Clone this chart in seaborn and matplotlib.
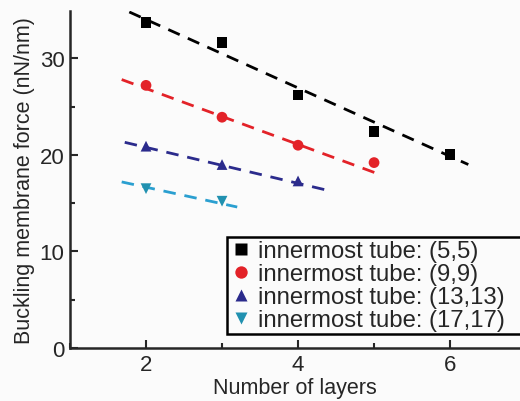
import matplotlib
matplotlib.use("Agg")
import matplotlib.pyplot as plt
import seaborn as sns
import pandas as pd
from matplotlib.ticker import MultipleLocator

sns.set_style("ticks")
plt.rcParams['font.family'] = ['Liberation Sans', 'DejaVu Sans']

# Data
labels = ["innermost tube: (5,5)", "innermost tube: (9,9)",
          "innermost tube: (13,13)", "innermost tube: (17,17)"]
x_55 = [2, 3, 4, 5, 6]
y_55 = [33.7, 31.6, 26.2, 22.4, 20.0]
x_99 = [2, 3, 4, 5]
y_99 = [27.2, 23.9, 21.0, 19.2]
x_1313 = [2, 3, 4]
y_1313 = [20.9, 19.0, 17.3]
x_1717 = [2, 3]
y_1717 = [16.5, 15.2]

# Fitted dashed lines (end points)
fit_x = [[1.78, 6.24], [1.68, 5.10], [1.72, 4.35], [1.68, 3.20]]
fit_y = [[34.8, 19.0], [27.8, 17.9], [21.3, 16.4], [17.2, 14.6]]

marker_colors = ["#000000", "#e32228", "#2b2b8c", "#2191b0"]
line_colors = ["#000000", "#e32228", "#2b2b8c", "#2a9fd0"]
markers = ["s", "o", "^", "v"]

pts = pd.concat([
    pd.DataFrame({"x": xs, "y": ys, "series": lab})
    for xs, ys, lab in zip([x_55, x_99, x_1313, x_1717],
                           [y_55, y_99, y_1313, y_1717], labels)
])
fits = pd.concat([
    pd.DataFrame({"x": fx, "y": fy, "series": lab})
    for fx, fy, lab in zip(fit_x, fit_y, labels)
])

fig = plt.figure(figsize=(5.2, 4.02), dpi=100)
fig.patch.set_facecolor("#fbfbfb")
ax = fig.add_axes([70/520, 53/402, 450/520, 337/402])
ax.set_facecolor("#fbfbfb")

sns.lineplot(data=fits, x="x", y="y", hue="series", hue_order=labels,
             palette=line_colors, ax=ax, legend=False, linewidth=2.0,
             estimator=None, sort=False)
for ln in ax.get_lines():
    ln.set_dashes((4.5, 3.2))

sns.scatterplot(data=pts, x="x", y="y", hue="series", style="series",
                hue_order=labels, style_order=labels,
                palette=marker_colors, markers=markers, s=60,
                edgecolor="none", ax=ax, zorder=3)

ax.set_xlim(1.0, 6.92)
ax.set_ylim(0, 34.9)
ax.xaxis.set_major_locator(MultipleLocator(2))
ax.xaxis.set_minor_locator(MultipleLocator(1))
ax.yaxis.set_major_locator(MultipleLocator(10))
ax.yaxis.set_minor_locator(MultipleLocator(5))
ax.tick_params(which="major", direction="in", length=6, width=1.5,
               labelsize=16, pad=4)
ax.tick_params(which="minor", direction="in", length=3.5, width=1.5)
for s in ["top", "right"]:
    ax.spines[s].set_visible(False)
for s in ["left", "bottom"]:
    ax.spines[s].set_linewidth(1.8)

ax.set_xlabel("Number of layers", fontsize=15.5, labelpad=2)
ax.set_ylabel("Buckling membrane force (nN/nm)", fontsize=15.5, labelpad=3)

leg = ax.legend(loc="lower left", bbox_to_anchor=(0.349, 0.042, 0.75, 0.34),
                mode="expand", fontsize=17.2, frameon=True, fancybox=False,
                borderpad=0.1, labelspacing=0.05, handletextpad=0.2,
                handlelength=1.0, borderaxespad=0, title=None,
                markerscale=1.15)
leg.get_frame().set_edgecolor("black")
leg.get_frame().set_linewidth(1.8)
leg.get_frame().set_facecolor("#fbfbfb")
leg.get_frame().set_alpha(1)
leg.set_clip_on(False)

fig.savefig("out.png", dpi=100, facecolor=fig.get_facecolor())
